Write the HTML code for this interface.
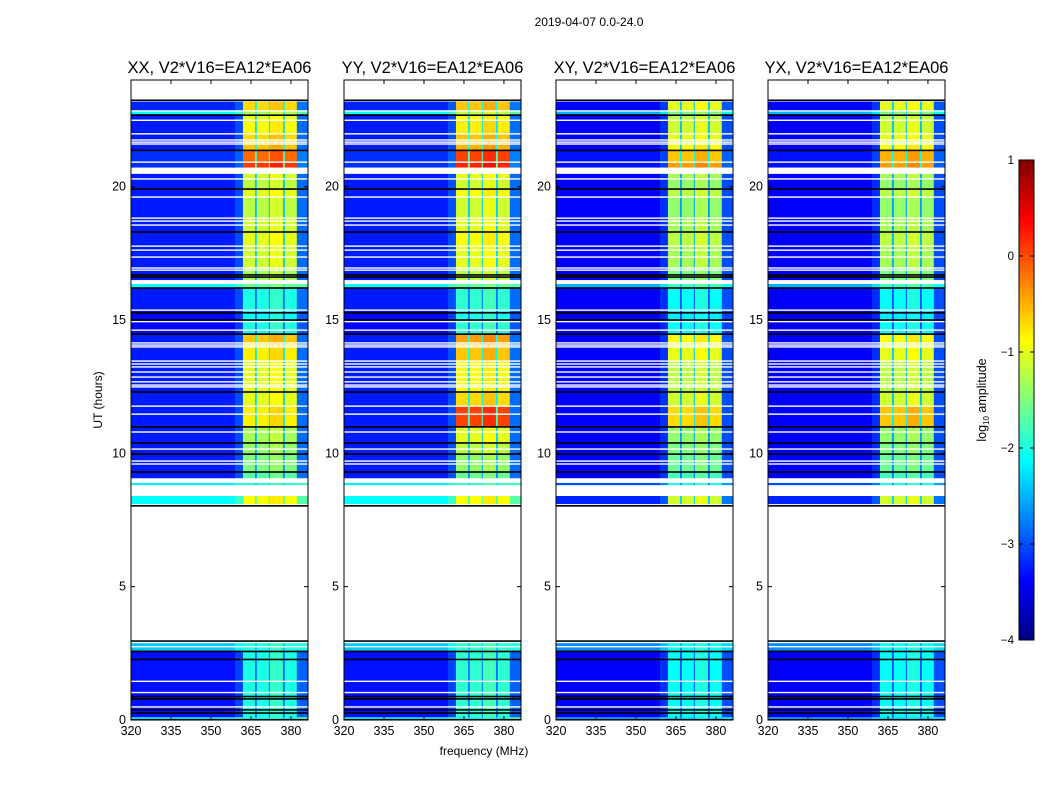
<!DOCTYPE html>
<html><head><meta charset="utf-8">
<style>
body{margin:0;background:#fff;}
svg{display:block;font-family:"Liberation Sans",sans-serif;}
</style></head>
<body>
<svg id="fig" width="1050" height="800" viewBox="0 0 1050 800">
<rect width="1050" height="800" fill="#fff"/>
<text x="589" y="26" font-size="12" text-anchor="middle">2019-04-07 0.0-24.0</text>
<text x="102" y="400" font-size="12" text-anchor="middle" transform="rotate(-90 102 400)">UT (hours)</text>
<text x="484" y="755" font-size="12" text-anchor="middle">frequency (MHz)</text>
<g id="panels"></g>
<g id="cbar"></g>
</svg>
<script>
// ---- data ----
const panelTitles = ["XX, V2*V16=EA12*EA06","YY, V2*V16=EA12*EA06","XY, V2*V16=EA12*EA06","YX, V2*V16=EA12*EA06"];
const xTicks = [320,335,350,365,380];
const yTicks = [0,5,10,15,20];
const cbTicks = [1,0,-1,-2,-3,-4];
// time segments [start hour, end hour]
const segStart = [22.85,22.72,22.50,22.01,21.60,21.37,20.92,20.72,20.29,19.91,19.61,18.82,18.30,17.77,16.95,16.50,16.20,15.37,14.94,14.47,14.14,13.46,12.30,11.77,10.99,10.39,9.97,9.30,9.07,8.81,8.10,2.60,0.10,0.03];
const segEnd   = [23.19,22.85,22.72,22.50,22.01,21.60,21.37,20.92,20.48,20.29,19.91,19.61,18.82,18.30,17.77,16.95,16.35,16.20,15.37,14.94,14.47,14.14,13.46,12.30,11.77,10.99,10.39,9.97,9.30,8.89,8.40,2.88,2.60,0.10];
// background log10 amplitude (parallel hands / cross hands)
const bgPar   = [-3.2,-2.1,-3.25,-3.25,-3.25,-3.25,-3.15,-3.15,-3.25,-3.25,-3.25,-3.25,-3.25,-3.25,-3.25,-3.25,-2.1,-3.25,-3.35,-3.35,-3.25,-3.25,-3.25,-3.25,-3.25,-3.25,-3.25,-3.25,-3.25,-2.2,-2.1,-2.4,-3.3,-2.1];
const bgCross = [-3.35,-2.5,-3.4,-3.4,-3.4,-3.4,-3.3,-3.3,-3.4,-3.4,-3.4,-3.4,-3.4,-3.4,-3.4,-3.4,-2.5,-3.4,-3.45,-3.45,-3.4,-3.4,-3.4,-3.4,-3.4,-3.4,-3.4,-3.4,-3.4,-3.0,-3.2,-2.7,-3.4,-2.5];
// band (363-382 MHz) log10 amplitude per polarisation
const bandXX = [-0.7,-1.3,-1.0,-0.9,-0.7,-0.6,-0.15,0.1,-1.1,-1.2,-1.0,-1.2,-1.1,-1.0,-1.1,-1.3,-1.6,-2.0,-2.1,-2.0,-0.6,-0.8,-1.0,-1.0,-0.8,-1.3,-1.4,-1.5,-1.7,-1.9,-0.9,-2.0,-2.0,-2.1];
const bandYY = [-0.6,-1.2,-0.9,-0.8,-0.6,-0.5,0.05,0.2,-1.0,-1.1,-0.9,-1.1,-1.0,-0.9,-1.0,-1.2,-1.6,-1.9,-2.0,-1.9,-0.4,-0.6,-0.9,-0.7,0.05,-1.0,-1.2,-1.4,-1.6,-1.8,-0.9,-1.9,-1.9,-2.1];
const bandXY = [-1.0,-1.5,-1.2,-1.1,-1.0,-0.9,-0.6,-0.4,-1.3,-1.4,-1.2,-1.4,-1.3,-1.2,-1.3,-1.5,-1.8,-2.1,-2.2,-2.1,-0.9,-1.0,-1.2,-1.1,-0.7,-1.4,-1.5,-1.6,-1.8,-2.0,-1.1,-2.1,-2.1,-2.3];
const bandYX = [-1.0,-1.5,-1.2,-1.1,-1.0,-0.9,-0.5,-0.4,-1.3,-1.4,-1.2,-1.4,-1.3,-1.2,-1.3,-1.5,-1.8,-2.1,-2.2,-2.1,-0.9,-1.0,-1.2,-1.1,-0.6,-1.4,-1.5,-1.6,-1.8,-2.0,-1.1,-2.1,-2.1,-2.3];
// frequency columns (MHz) and their type: 0 background, 1 band, 2 gap, 3 band edge, 4 shoulder
const colStart = [320,359,362,366.5,367.2,371.7,372.1,377.0,377.7,382.2];
const colEnd   = [359,362,366.5,367.2,371.7,372.1,377.0,377.7,382.2,386.4];
const colType  = [0,4,1,2,1,2,1,2,1,3];
// flagged rows (hours)
const blackRows = [23.24,22.68,21.36,19.91,18.30,16.69,16.61,16.20,15.27,15.00,14.47,12.30,10.99,10.39,9.97,9.30,8.03,2.96,2.57,2.27,0.88,0.79,0.38,0.26,0.01];
const whiteRows = [22.84,22.49,21.98,21.75,21.67,21.60,20.92,20.29,19.61,18.82,18.71,18.56,17.77,17.62,17.36,16.95,16.87,16.40,16.46,15.37,14.94,14.62,14.14,14.06,13.99,13.46,13.35,13.24,13.05,12.86,12.68,12.56,12.49,11.77,11.47,10.80,10.16,9.71,9.60,2.75,1.45,1.03,0.49];

// ---- drawing ----
const NS="http://www.w3.org/2000/svg";
const lefts=[131,344,556,768], W=177, TOP=80, H=640;
const fMin=320, fMax=386.4, tMin=0, tMax=24;
const vMin=-4, vMax=1;
function jet(v){
  let x=(v-vMin)/(vMax-vMin); x=Math.max(0,Math.min(1,x));
  const c=a=>Math.round(255*Math.max(0,Math.min(1,a)));
  return `rgb(${c(1.5-Math.abs(4*x-3))},${c(1.5-Math.abs(4*x-2))},${c(1.5-Math.abs(4*x-1))})`;
}
function mk(tag,attrs,parent){const e=document.createElementNS(NS,tag);for(const k in attrs)e.setAttribute(k,attrs[k]);parent.appendChild(e);return e;}
const panelsG=document.getElementById('panels');
const bands=[bandXX,bandYY,bandXY,bandYX];
const bgs=[bgPar,bgPar,bgCross,bgCross];
lefts.forEach((L,p)=>{
  const xs=f=>L+(f-fMin)/(fMax-fMin)*W;
  const ys=t=>TOP+H-(t-tMin)/(tMax-tMin)*H;
  const g=mk('g',{},panelsG);
  
  
  const hm=mk('g',{},g);
  
  
  segStart.forEach((t0,i)=>{
    const t1=segEnd[i], bg=bgs[p][i], bd=bands[p][i];
    colStart.forEach((f0,j)=>{
      const f1=colEnd[j], ty=colType[j];
      let v = ty===0?bg : ty===1?bd : ty===2?(bd+bg)/2-0.2 : ty===4?bg+0.25 : bg+0.4;
      if(ty===1 && j===6) v=bd+0.12;
      const r=mk('rect',{x:xs(f0),y:ys(t1),width:xs(f1)-xs(f0)+0.3,height:ys(t0)-ys(t1)+0.1,fill:jet(v)},hm);
      
      
    });
  });
  whiteRows.forEach(t=>{
    const r=mk('rect',{x:L,y:ys(t)-0.7,width:W,height:1.4,fill:'#fff'},hm);
    
    
  });
  blackRows.forEach(t=>{
    const r=mk('rect',{x:L,y:ys(t)-0.8,width:W,height:1.6,fill:'#000'},hm);
    
    
  });
  const fr=mk('rect',{x:L,y:TOP,width:W,height:H,fill:'none',stroke:'#000','stroke-width':1},g);
  
  
  const tt=mk('text',{x:L+W/2,y:TOP-7,'font-size':16.5,'text-anchor':'middle'},g);
  tt.textContent=panelTitles[p];
  
  
  xTicks.forEach(f=>{
    const x=xs(f);
    mk('line',{x1:x,x2:x,y1:TOP+H,y2:TOP+H-4,stroke:'#000'},g);
    mk('line',{x1:x,x2:x,y1:TOP,y2:TOP+4,stroke:'#000'},g);
    const t=mk('text',{x:x,y:TOP+H+15,'font-size':12.5,'text-anchor':'middle'},g);
    t.textContent=f;
    
    
  });
  yTicks.forEach(v=>{
    const y=ys(v);
    mk('line',{x1:L,x2:L+4,y1:y,y2:y,stroke:'#000'},g);
    mk('line',{x1:L+W,x2:L+W-4,y1:y,y2:y,stroke:'#000'},g);
    const t=mk('text',{x:L-5,y:y+4,'font-size':12.5,'text-anchor':'end'},g);
    t.textContent=v;
    
    
  });
});
// colorbar
const cb=document.getElementById('cbar');


const cbX=1019,cbW=15,cbT=160,cbH=480;
for(let i=0;i<120;i++){
  const v=vMin+(i+0.5)/120*(vMax-vMin);
  mk('rect',{x:cbX,y:cbT+cbH-(i+1)*cbH/120,width:cbW,height:cbH/120+0.5,fill:jet(v)},cb);
}
mk('rect',{x:cbX,y:cbT,width:cbW,height:cbH,fill:'none',stroke:'#000'},cb);
cbTicks.forEach(v=>{
  const y=cbT+cbH-(v-vMin)/(vMax-vMin)*cbH;
  mk('line',{x1:cbX,x2:cbX+4,y1:y,y2:y,stroke:'#000'},cb);
  mk('line',{x1:cbX+cbW,x2:cbX+cbW-4,y1:y,y2:y,stroke:'#000'},cb);
  const t=mk('text',{x:1014,y:y+4,'font-size':11.5,'text-anchor':'end'},cb);
  t.textContent=v<0?'\u2212'+Math.abs(v):String(v);
  
  
});
const cl=mk('text',{x:986,y:400,'font-size':12.5,'text-anchor':'middle',transform:'rotate(-90 986 400)'},cb);
cl.innerHTML='log<tspan font-size="8" dy="3">10</tspan><tspan dy="-3"> amplitude</tspan>';


</script>
</body></html>
